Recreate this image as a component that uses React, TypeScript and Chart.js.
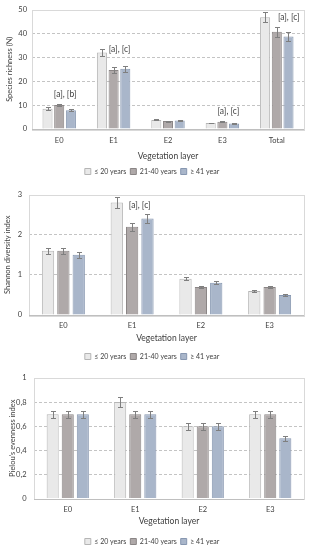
import React, { useEffect, useRef } from "react";
import { Chart, registerables } from "chart.js";
Chart.register(...registerables);

const seriesLabels = ["≤ 20 years", "21-40 years", "≥ 41 year"];

// Chart 1: species richness
const richnessCategories = ["E0", "E1", "E2", "E3", "Total"];
const richnessYoung = [8.5, 32, 3.8, 2.5, 46.8];
const richnessMid = [10, 24.7, 3.3, 3, 40.7];
const richnessOld = [7.8, 25.2, 3.6, 2.3, 38.7];
const richnessErrYoung = [0.5, 1.6, 0.2, 0.15, 2.1];
const richnessErrMid = [0.5, 1.3, 0.2, 0.2, 2.0];
const richnessErrOld = [0.4, 1.3, 0.2, 0.15, 1.8];
const richnessTicks = [0, 10, 20, 30, 40, 50];
const richnessNotes = ["[a], [b]", "[a], [c]", "[a], [c]", "[a], [c]"];
const richnessNoteCats = [0, 1, 3, 4];
const richnessNoteValues = [14.6, 33.5, 7.6, 46.8];

// Chart 2: Shannon diversity
const layerCategories = ["E0", "E1", "E2", "E3"];
const shannonYoung = [1.6, 2.8, 0.9, 0.6];
const shannonMid = [1.6, 2.2, 0.7, 0.7];
const shannonOld = [1.5, 2.4, 0.8, 0.5];
const shannonErrYoung = [0.08, 0.13, 0.04, 0.03];
const shannonErrMid = [0.08, 0.1, 0.03, 0.03];
const shannonErrOld = [0.08, 0.11, 0.04, 0.02];
const shannonTicks = [0, 1, 2, 3];
const shannonNotes = ["[a], [c]"];
const shannonNoteCats = [1];
const shannonNoteValues = [2.73];

// Chart 3: Pielou evenness
const pielouYoung = [0.7, 0.8, 0.6, 0.7];
const pielouMid = [0.7, 0.7, 0.6, 0.7];
const pielouOld = [0.7, 0.7, 0.6, 0.5];
const pielouErrYoung = [0.03, 0.04, 0.03, 0.03];
const pielouErrMid = [0.03, 0.03, 0.03, 0.03];
const pielouErrOld = [0.03, 0.03, 0.03, 0.02];
const pielouTicks = [0, 0.2, 0.4, 0.6, 0.8, 1];

const FONT = "Lato, 'Open Sans', sans-serif";
const fills = ["#e9e9e9", "#afa9a9", "#a9b6ca"];
const borders = ["#b5b5b5", "#8a8585", "#8797b0"];

const errorBarPlugin = {
  id: "errorBars",
  afterDatasetsDraw(chart: any) {
    const ctx = chart.ctx;
    const y = chart.scales.y;
    ctx.save();
    ctx.strokeStyle = "#7f7f7f";
    ctx.lineWidth = 1;
    chart.data.datasets.forEach((ds: any, i: number) => {
      const meta = chart.getDatasetMeta(i);
      meta.data.forEach((el: any, j: number) => {
        const v = ds.data[j];
        const e = ds.errors[j];
        const top = Math.round(y.getPixelForValue(v + e)) + 0.5;
        const bot = Math.round(y.getPixelForValue(v - e)) + 0.5;
        const x = Math.round(el.x) + 0.5;
        ctx.beginPath();
        ctx.moveTo(x, top);
        ctx.lineTo(x, bot);
        ctx.moveTo(x - 2.5, top);
        ctx.lineTo(x + 2.5, top);
        ctx.moveTo(x - 2.5, bot);
        ctx.lineTo(x + 2.5, bot);
        ctx.stroke();
      });
    });
    ctx.restore();
  },
};

const framePlugin = {
  id: "frame",
  beforeDatasetsDraw(chart: any) {
    const { ctx, chartArea: a } = chart;
    ctx.save();
    ctx.strokeStyle = "#d9d9d9";
    ctx.lineWidth = 1;
    ctx.strokeRect(Math.round(a.left) + 0.5, Math.round(a.top) + 0.5, Math.round(a.right - a.left), Math.round(a.bottom - a.top));
    ctx.strokeStyle = "#bfbfbf";
    ctx.beginPath();
    ctx.moveTo(a.left, Math.round(a.bottom) + 0.5);
    ctx.lineTo(a.right, Math.round(a.bottom) + 0.5);
    ctx.stroke();
    ctx.restore();
  },
};

const notesPlugin = {
  id: "notes",
  afterDraw(chart: any) {
    const o = chart.options.plugins.notes;
    if (!o || !o.labels) return;
    const { ctx } = chart;
    const xs = chart.scales.x;
    const ys = chart.scales.y;
    const catW = (xs.right - xs.left) / chart.data.labels.length;
    ctx.save();
    ctx.fillStyle = "#404040";
    ctx.font = `8.5px ${FONT}`;
    ctx.textAlign = "center";
    ctx.textBaseline = "middle";
    o.labels.forEach((t: string, i: number) => {
      const c = o.cats[i];
      const shift = chart.data.labels[c] === "Total" ? 0.22 : 0.11;
      const x = xs.getPixelForValue(c) + shift * catW;
      const yy = ys.getPixelForValue(o.values[i]);
      ctx.fillText(t, x, yy);
    });
    ctx.restore();
  },
};

type Spec = {
  labels: string[];
  series: number[][];
  errors: number[][];
  ticks: number[];
  yTitle: string;
  comma: boolean;
  yWidth: number;
  tickPad: number;
  titlePad: number;
  padTop: number;
  xHeight: number;
  xTickPad: number;
  xTitlePad: number;
  padBottom: number;
  catPct: number;
  barPct: number;
  notes?: { labels: string[]; cats: number[]; values: number[] };
};

function BarPanel({ spec, top, height }: { spec: Spec; top: number; height: number }) {
  const ref = useRef<HTMLCanvasElement | null>(null);
  useEffect(() => {
    if (!ref.current) return;
    const max = spec.ticks[spec.ticks.length - 1];
    const step = spec.ticks[1] - spec.ticks[0];
    const chart = new Chart(ref.current, {
      type: "bar",
      data: {
        labels: spec.labels,
        datasets: spec.series.map((d, i) => ({
          label: seriesLabels[i],
          data: d,
          errors: spec.errors[i],
          backgroundColor: fills[i],
          borderColor: borders[i],
          borderWidth: 1,
          categoryPercentage: spec.catPct,
          barPercentage: spec.barPct,
        })) as any,
      },
      options: {
        animation: false,
        responsive: false,
        maintainAspectRatio: false,
        devicePixelRatio: 1,
        layout: { padding: { top: spec.padTop, right: 6, bottom: spec.padBottom, left: 0 } },
        scales: {
          x: {
            grid: { display: false, drawTicks: false },
            border: { display: false },
            ticks: { color: "#404040", font: { family: FONT, size: 7.5 }, padding: spec.xTickPad },
            title: {
              display: true,
              text: "Vegetation layer",
              color: "#404040",
              font: { family: FONT, size: 8.5 },
              padding: { top: 0, bottom: spec.xTitlePad },
            },
            afterFit: (s: any) => {
              s.height = spec.xHeight;
            },
          },
          y: {
            min: 0,
            max: max,
            ticks: {
              stepSize: step,
              color: "#404040",
              font: { family: FONT, size: 7.5 },
              padding: spec.tickPad,
              callback: (v: any) => {
                const r = Math.round(Number(v) * 10) / 10;
                return spec.comma ? String(r).replace(".", ",") : String(r);
              },
            },
            grid: {
              drawTicks: false,
              color: (c: any) => (c.tick && (c.tick.value === 0 || c.tick.value === max) ? "rgba(0,0,0,0)" : "#c4c4c4"),
            },
            border: { display: false, dash: [3, 2] },
            title: {
              display: true,
              text: spec.yTitle,
              color: "#404040",
              font: { family: FONT, size: 7.5 },
              padding: { top: spec.titlePad, bottom: 0 },
            },
            afterFit: (s: any) => {
              s.width = spec.yWidth;
            },
          },
        },
        plugins: {
          legend: {
            position: "bottom",
            maxHeight: 16,
            labels: {
              boxWidth: 6,
              boxHeight: 6,
              padding: 4,
              color: "#404040",
              font: { family: FONT, size: 7 },
            },
          },
          tooltip: { enabled: false },
          notes: spec.notes,
        } as any,
      },
      plugins: [framePlugin, errorBarPlugin, notesPlugin],
    });
    return () => chart.destroy();
  }, []);
  return (
    <div style={{ position: "absolute", left: 0, top, width: 310, height }}>
      <canvas ref={ref} width={310} height={height} style={{ width: 310, height }} />
    </div>
  );
}

const richnessSpec: Spec = {
  labels: richnessCategories,
  series: [richnessYoung, richnessMid, richnessOld],
  errors: [richnessErrYoung, richnessErrMid, richnessErrOld],
  ticks: richnessTicks,
  yTitle: "Species richness (N)",
  comma: false,
  yWidth: 32,
  tickPad: 5,
  titlePad: 5,
  padTop: 8,
  xHeight: 35,
  xTickPad: 7,
  xTitlePad: 2.5,
  padBottom: 3,
  catPct: 0.645,
  barPct: 0.86,
  notes: { labels: richnessNotes, cats: richnessNoteCats, values: richnessNoteValues },
};

const shannonSpec: Spec = {
  labels: layerCategories,
  series: [shannonYoung, shannonMid, shannonOld],
  errors: [shannonErrYoung, shannonErrMid, shannonErrOld],
  ticks: shannonTicks,
  yTitle: "Shannon diversity index",
  comma: false,
  yWidth: 29,
  tickPad: 7,
  titlePad: 3,
  padTop: 11,
  xHeight: 34,
  xTickPad: 6.5,
  xTitlePad: 5.8,
  padBottom: 0,
  catPct: 0.67,
  barPct: 0.8,
  notes: { labels: shannonNotes, cats: shannonNoteCats, values: shannonNoteValues },
};

const pielouSpec: Spec = {
  labels: layerCategories,
  series: [pielouYoung, pielouMid, pielouOld],
  errors: [pielouErrYoung, pielouErrMid, pielouErrOld],
  ticks: pielouTicks,
  yTitle: "Pielou's evenness index",
  comma: true,
  yWidth: 34,
  tickPad: 7.5,
  titlePad: 8,
  padTop: 13,
  xHeight: 35.5,
  xTickPad: 7,
  xTitlePad: 7.3,
  padBottom: 0,
  catPct: 0.67,
  barPct: 0.8,
};

export default function App() {
  return (
    <div style={{ position: "absolute", left: 0, top: 0, width: 310, height: 550, background: "#fff" }}>
      <BarPanel spec={richnessSpec} top={0} height={183} />
      <BarPanel spec={shannonSpec} top={183} height={182} />
      <BarPanel spec={pielouSpec} top={365} height={185} />
    </div>
  );
}
